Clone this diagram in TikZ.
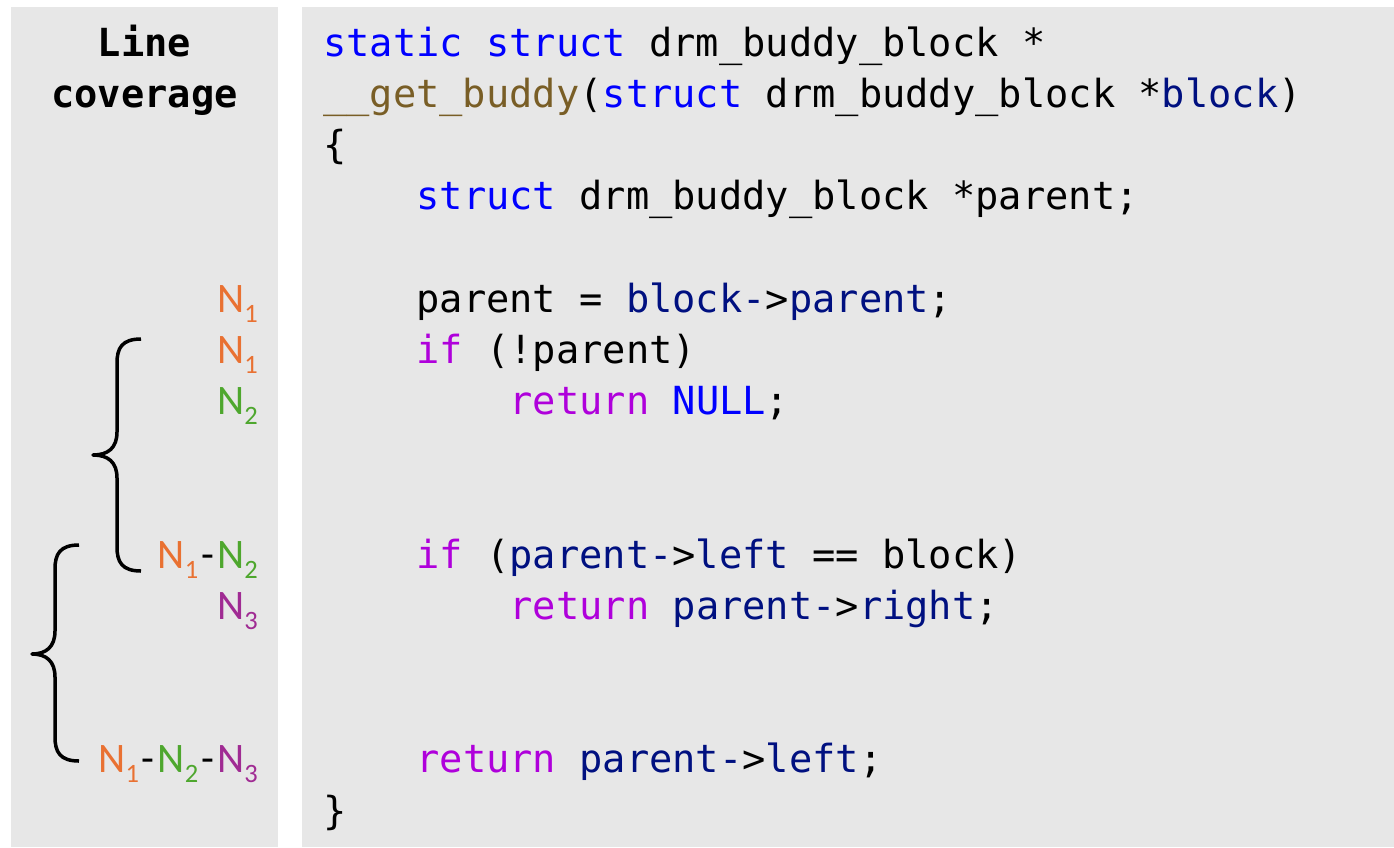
\documentclass[tikz,border=0pt]{standalone}
\usepackage{fontspec}
\setmonofont{DejaVu Sans Mono}
\newfontfamily\labelfont{Carlito}

% syntax colours
\definecolor{kwblue}{HTML}{0000FF}
\definecolor{fnbrown}{HTML}{795E26}
\definecolor{varnavy}{HTML}{001080}
\definecolor{ctlpurple}{HTML}{AF00DB}
\definecolor{panelgrey}{HTML}{E7E7E7}
% coverage label colours
\definecolor{nOrange}{HTML}{E97132}
\definecolor{nGreen}{HTML}{4EA72E}
\definecolor{nPurple}{HTML}{A02B93}

\newcommand\codefont{\ttfamily\fontsize{38.7}{40}\selectfont}
\newcommand\kw[1]{\textcolor{kwblue}{#1}}
\newcommand\fn[1]{\textcolor{fnbrown}{#1}}
\newcommand\vr[1]{\textcolor{varnavy}{#1}}
\newcommand\ct[1]{\textcolor{ctlpurple}{#1}}
\newcommand\Nlab[2]{\textcolor{#1}{N\raisebox{-10pt}{\fontsize{26.5}{26.5}\selectfont #2}}}
\newcommand\dashsep{\textcolor{black}{\kern3pt-\kern3pt}}

\begin{document}
\begin{tikzpicture}[x=1pt,y=-1pt,
  code/.style={anchor=base west, inner sep=0pt, font=\codefont},
  title/.style={anchor=base, inner sep=0pt, font=\codefont\bfseries},
  cov/.style={anchor=base east, inner sep=0pt, font=\labelfont\fontsize{42}{42}\selectfont},
  brace/.style={draw=black, line width=3.5pt, line join=round}]

\fill[white] (0,0) rectangle (1394,847);
\useasboundingbox (0,0) rectangle (1394,847);

% panels
\fill[panelgrey] (11,7) rectangle (278,847);
\fill[panelgrey] (302,7) rectangle (1394,847);

% header of the coverage column
\node[title] (hd1) at (144.5,56) {Line};
\node[title] (hd2) at (144.5,107.2) {coverage};

% source listing
\node[code] (l1)  at (323,56)     {\kw{static} \kw{struct} drm\_buddy\_block *};
\node[code] (l2)  at (323,107.2)  {\fn{\_\_get\_buddy}(\kw{struct} drm\_buddy\_block *\vr{block})};
\node[code] (l3)  at (323,158.4)  {\{};
\node[code] (l4)  at (416.2,209.6) {\kw{struct} drm\_buddy\_block *parent;};
\node[code] (l6)  at (416.2,312)   {parent = \vr{block-}>\vr{parent};};
\node[code] (l7)  at (416.2,363.2) {\ct{if} (!parent)};
\node[code] (l8)  at (509.4,414.4) {\ct{return} \kw{NULL};};
\node[code] (l11) at (416.2,568)   {\ct{if} (\vr{parent-}>\vr{left} == block)};
\node[code] (l12) at (509.4,619.2) {\ct{return} \vr{parent-}>\vr{right};};
\node[code] (l15) at (416.2,772.8) {\ct{return} \vr{parent-}>\vr{left};};
\node[code] (l16) at (323,824)     {\}};

% coverage labels
\node[cov] (c6)  at (258,312)   {\Nlab{nOrange}{1}};
\node[cov] (c7)  at (258,363.2) {\Nlab{nOrange}{1}};
\node[cov] (c8)  at (258,414.4) {\Nlab{nGreen}{2}};
\node[cov] (c11) at (258,568)   {\Nlab{nOrange}{1}\dashsep\Nlab{nGreen}{2}};
\node[cov] (c12) at (258,619.2) {\Nlab{nPurple}{3}};
\node[cov] (c15) at (258,772.8) {\Nlab{nOrange}{1}\dashsep\Nlab{nGreen}{2}\dashsep\Nlab{nPurple}{3}};

% braces grouping the covered lines
\draw[brace] (141,339) .. controls (122,339) and (117,348) .. (117,363)
  -- (117,432) .. controls (117,448) and (108,455) .. (93,455)
  .. controls (108,455) and (117,462) .. (117,478)
  -- (117,547) .. controls (117,562) and (122,571) .. (141,571);
\draw[brace] (79,545) .. controls (60,545) and (55,554) .. (55,569)
  -- (55,631) .. controls (55,647) and (46,654) .. (32,654)
  .. controls (46,654) and (55,661) .. (55,677)
  -- (55,737) .. controls (55,752) and (60,761) .. (79,761);
\end{tikzpicture}
\end{document}
